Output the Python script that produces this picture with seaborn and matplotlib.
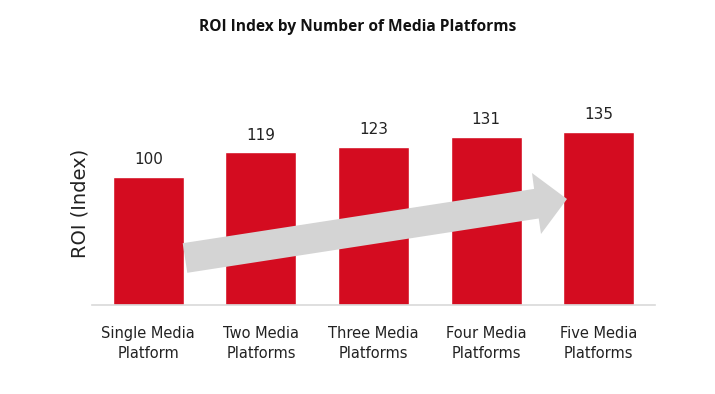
import matplotlib
matplotlib.use("Agg")
import matplotlib.pyplot as plt
from matplotlib.patches import Polygon
from matplotlib import font_manager
import seaborn as sns
import pandas as pd

categories = ["Single Media\nPlatform", "Two Media\nPlatforms", "Three Media\nPlatforms",
              "Four Media\nPlatforms", "Five Media\nPlatforms"]
roi_values = [100, 119, 123, 131, 135]
title = "ROI Index by Number of Media Platforms"
ylabel = "ROI (Index)"

df = pd.DataFrame({"platforms": categories, "roi": roi_values})

sns.set_theme(style="white")
plt.rcParams["font.family"] = ["DejaVu Sans"]

names = {f.name for f in font_manager.fontManager.ttflist}
if "Liberation Sans Narrow" in names:
    tick_family, tick_size = "Liberation Sans Narrow", 14
else:
    tick_family, tick_size = "DejaVu Sans", 10.5

W, H = 715, 394
fig = plt.figure(figsize=(W / 100, H / 100), dpi=100)
ax = fig.add_axes([92 / W, (H - 305) / H, 563 / W, 190 / H])

sns.barplot(data=df, x="platforms", y="roi", color="#D40C20", width=0.63,
            saturation=1, ax=ax, zorder=2)

ax.set_ylim(0, 148)
ax.set_xlim(-0.5, 4.5)
for s in ["top", "right", "left"]:
    ax.spines[s].set_visible(False)
ax.spines["bottom"].set_color("#D9D9D9")
ax.spines["bottom"].set_linewidth(1.2)
ax.set_yticks([])
ax.set_xlabel("")
ax.set_ylabel(ylabel, fontsize=14, color="#222222")
ax.yaxis.set_label_coords(-0.004, 0.534)
ax.tick_params(axis="x", length=0, pad=15, labelcolor="#222222")
for lab in ax.get_xticklabels():
    lab.set_fontfamily(tick_family)
    lab.set_fontsize(tick_size)
    lab.set_linespacing(1.45)

for cont in ax.containers:
    ax.bar_label(cont, fmt="%d", padding=7, fontsize=11, color="#222222")

fig.text(0.5, 1 - 27 / H, title, ha="center", va="center", fontsize=11.2,
         fontweight="bold", family=["Open Sans", "DejaVu Sans"], color="#111111")

# decorative gray trend arrow (pixel space, top-left origin)
pts = [(182.7, 243.2), (534.1, 188.9), (532.0, 173.0), (567.0, 199.0),
       (541.0, 234.0), (538.7, 218.5), (187.3, 272.8)]
poly = Polygon([(x / W, 1 - y / H) for x, y in pts], closed=True,
               transform=fig.transFigure, facecolor="#D4D4D4", edgecolor="none",
               zorder=5)
fig.patches.append(poly)

fig.savefig("out.png", dpi=100, facecolor="white")
